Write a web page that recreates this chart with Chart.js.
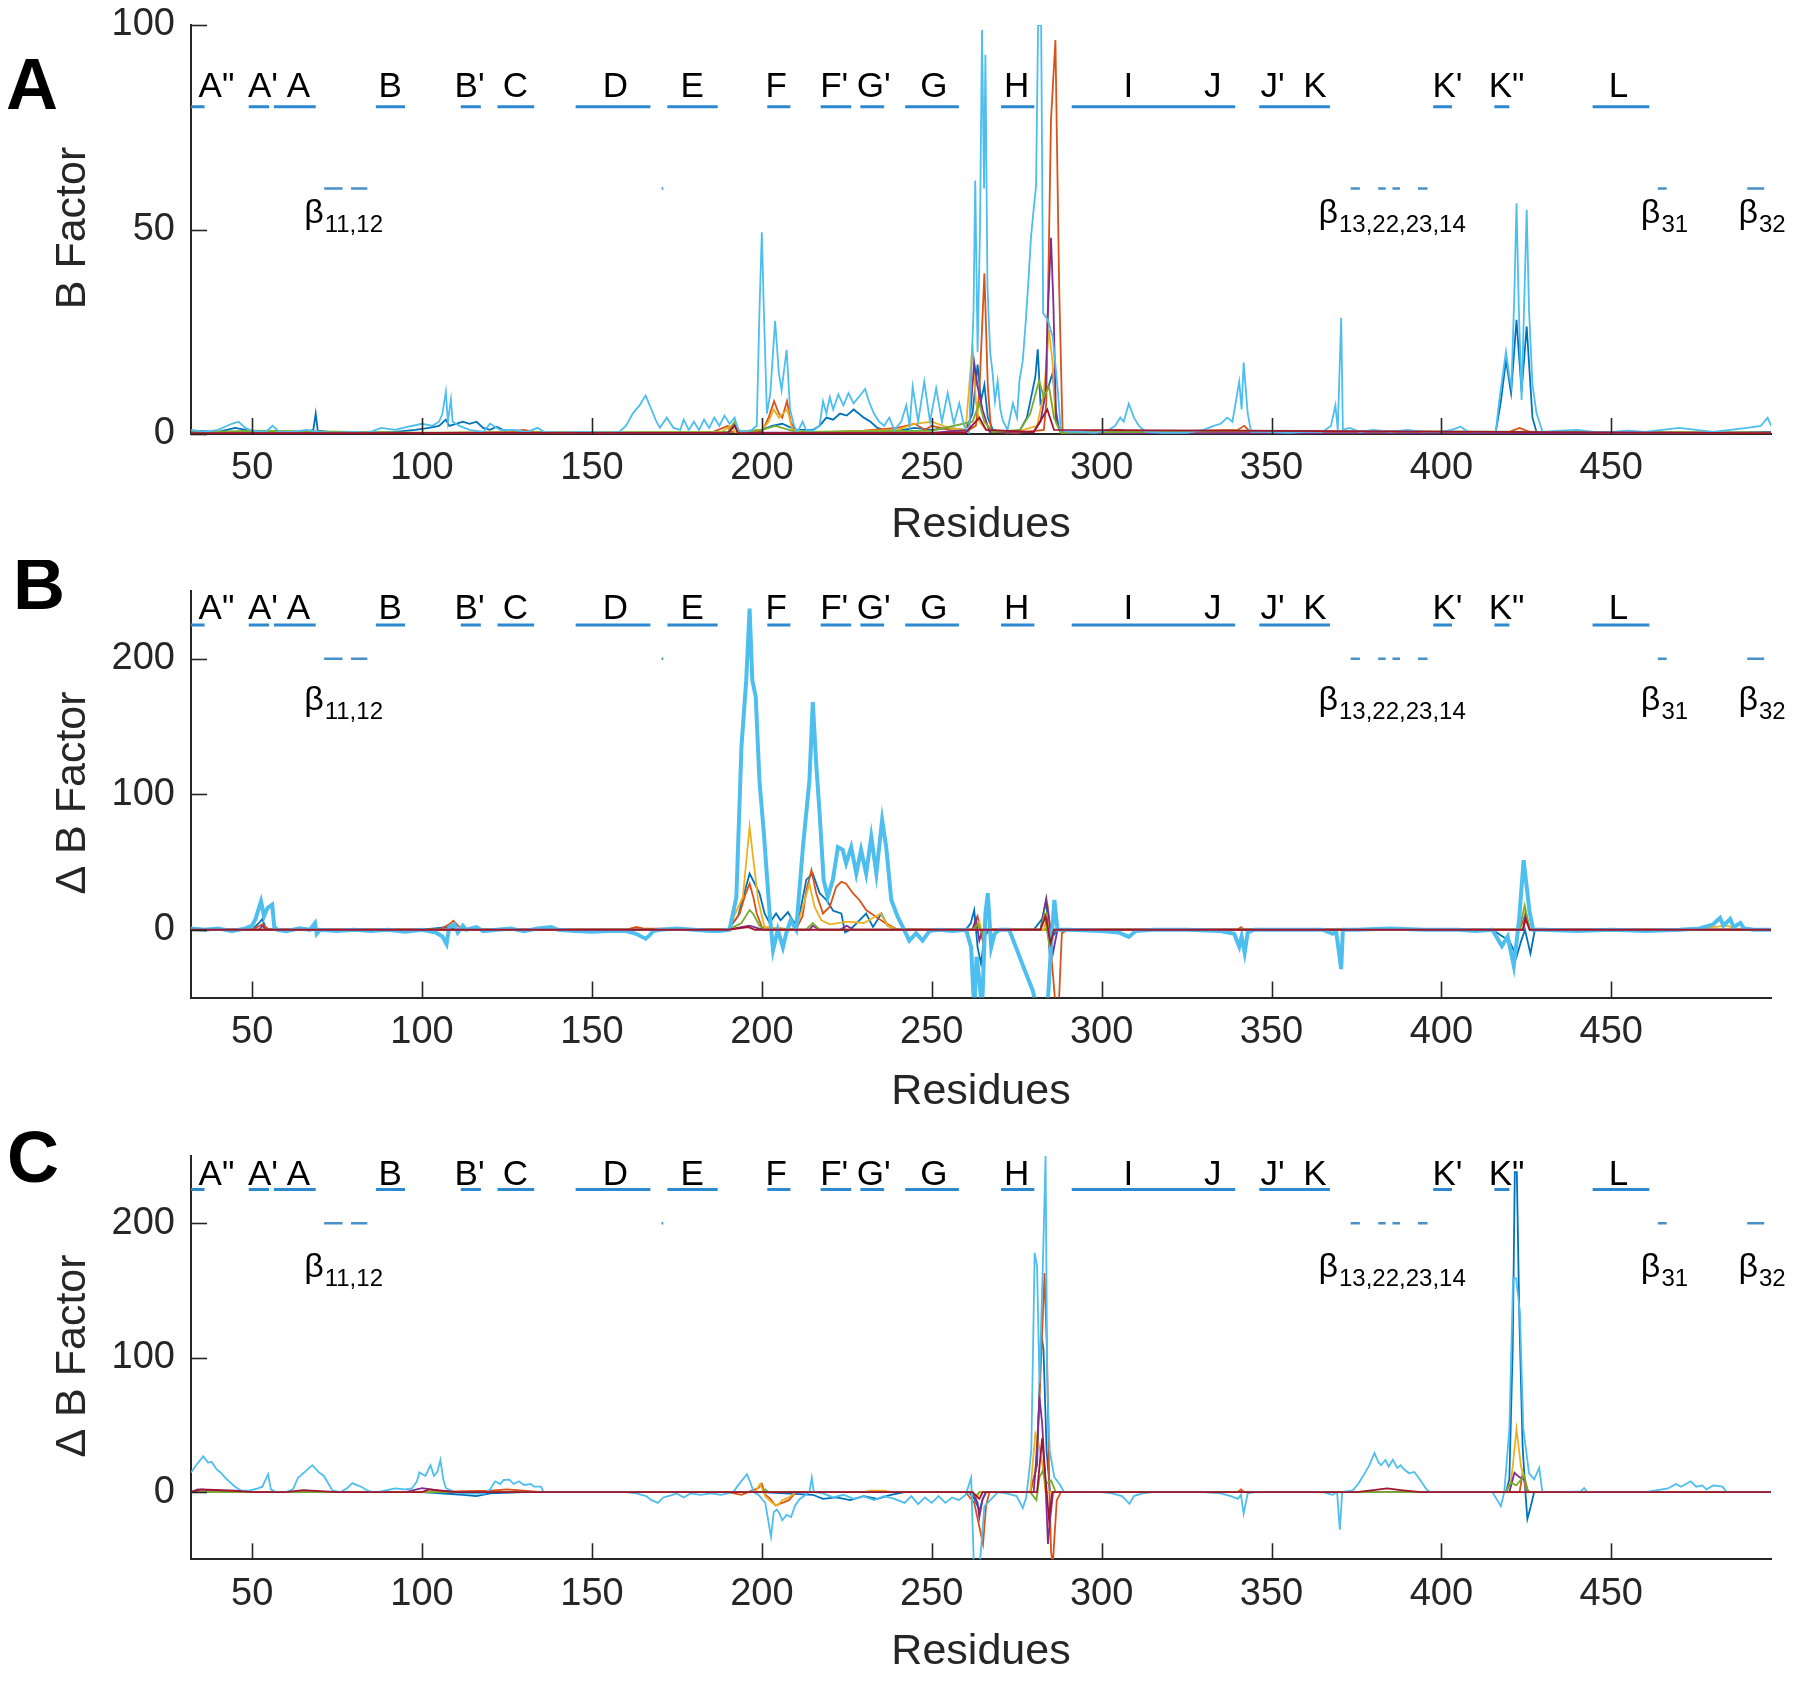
<!DOCTYPE html>
<html><head><meta charset="utf-8">
<script src="https://cdn.jsdelivr.net/npm/chart.js@4.4.1/dist/chart.umd.min.js"></script>
<style>
html,body{margin:0;padding:0;background:#fff;}
#wrap{position:relative;width:1800px;height:1686px;overflow:hidden;}
canvas{position:absolute;left:0;}
</style></head><body>
<div id="wrap">
<canvas id="cA" width="1800" height="545" style="top:0px;width:1800px;height:545px"></canvas>
<canvas id="cB" width="1800" height="545" style="top:560px;width:1800px;height:545px"></canvas>
<canvas id="cC" width="1800" height="566" style="top:1120px;width:1800px;height:566px"></canvas>
</div>
<script>
// ---------------- DATA ----------------
const residueMin = 32, residueMax = 497;
const xTickValues = [50, 100, 150, 200, 250, 300, 350, 400, 450];
const yTicksA = [0, 50, 100];
const yTicksBC = [0, 100, 200];
const seriesColors = ['#0072BD', '#D95319', '#EDB120', '#7E2F8E', '#77AC30', '#4DBEEE', '#A2142F'];

// secondary structure (helices) and their labels
const helixNames = ['A"', "A'", 'A', 'B', "B'", 'C', 'D', 'E', 'F', "F'", "G'", 'G', 'H', 'I', 'J', "J'", 'K', "K'", 'K"', 'L'];
const helixStart = [28, 49, 56.4, 86.4, 111.4, 122.2, 145.2, 172.2, 201.6, 217.3, 229, 242.2, 270.4, 291.2, 325, 346.4, 354.5, 397.6, 415.6, 444.5];
const helixEnd   = [36, 55, 68.7, 95, 117.3, 133, 167.2, 187, 208.4, 226.3, 236, 258, 280.2, 325, 339.3, 354.5, 367.2, 403.1, 420, 461.2];
const helixLabelX = [39.5, 53.2, 63.6, 90.6, 114, 127.5, 156.9, 179.5, 204.2, 221.3, 232.9, 250.6, 275, 307.9, 332.7, 350.3, 362.8, 401.8, 419.2, 452.1];
// beta strands and their labels
const betaStart = [71.2, 79.1, 170.5, 373.3, 381.4, 385.6, 393.1, 463.7, 490];
const betaEnd   = [76.6, 83.9, 171.0, 376.0, 383.6, 387.8, 395.9, 466.3, 495];
const betaLabelSub = ['11,12', '13,22,23,14', '31', '32'];
const betaLabelX = [65.3, 363.8, 458.7, 487.4];

// ---- Panel A : B Factor ----
const A_blue = [[32,0.8],[40,0.5],[45,1.5],[48,1],[52,0.5],[60,0.3],[66,0.5],[68,1],[68.7,5],[69.3,0.8],[75,0.3],[85,0.3],[92,0.5],[98,1],[102,1.5],[105,2],[107,3.5],[108,2],[110,2.5],[112,3],[114,2.5],[116,3],[118,1.5],[120,1],[122,1.8],[125,0.5],[135,0.3],[150,0.3],[165,0.3],[180,0.3],[190,0.5],[195,0.5],[200,1],[203,2],[206,2.5],[210,1],[215,1],[217,2],[219,4],[221,3.5],[223,5],[225,4.5],[227,6],[228.5,5],[230,4],[232,3],[234,1.5],[236,1],[240,0.8],[245,1.5],[250,1],[255,1.5],[260,1],[262,5],[263.5,17],[264.5,8],[265.5,12],[266.5,4],[268,1],[272,0.3],[276,1],[278,4],[279.5,10],[280.5,14],[281.2,20.7],[282,7.5],[283,9],[284.5,12],[285.6,15],[286.5,6],[287.5,1],[290,0.3],[300,0.5],[310,0.8],[320,0.3],[340,0.5],[350,0.3],[370,0.5],[380,0.3],[400,0.3],[410,0.3],[416,0.5],[417.5,8],[419,18],[420.5,10],[422.1,27.9],[423.6,10.4],[425.1,26.3],[426.8,4],[428,0.5],[440,0.3],[460,0.3],[480,0.3],[497,0.5]];
const A_orange = [[32,0.3],[60,0.2],[100,0.2],[125,0.5],[130,1],[133,0.5],[150,0.2],[185,0.3],[190,2],[191,0.5],[200,0.5],[202,4],[203.6,8],[205,5],[206,4],[207.4,8],[208.5,3],[210,0.5],[220,0.5],[230,0.8],[240,1.5],[245,2.5],[248,1],[250,2],[255,1],[260,0.5],[263,2],[264,10],[265.5,39.3],[266.5,11.6],[267.5,0.5],[275,0.3],[283,1],[283.7,7.5],[285.1,76.8],[286.4,96.3],[287.5,36],[288.5,1],[290,0.3],[305,1],[310,0.5],[340,1],[342,2],[344,0.3],[380,0.3],[420,0.5],[423,1.5],[426,0.5],[497,0.3]];
const A_yellow = [[32,0.3],[100,0.2],[150,0.2],[188,0.5],[191,2],[192,0.5],[200,1],[202,3],[203.5,6],[205,4],[207.5,6],[209,1],[215,0.3],[240,1],[245,2.5],[250,3],[255,1.5],[260,1],[262,21.8],[263,8],[264,3],[266,1],[275,0.5],[281,2],[283,10],[284.5,25.4],[285.5,18],[286.5,3],[288,0.3],[340,0.5],[497,0.2]];
const A_purple = [[32,0.2],[100,0.2],[190,0.3],[192,2.5],[193,0.3],[200,0.3],[250,0.3],[261,1],[262.5,17.4],[263.5,11.6],[265,5.8],[267,0.5],[280,0.5],[282,3],[283.5,10],[284.1,28],[285.1,48],[285.8,32],[286.6,3.4],[288,0.2],[497,0.2]];
const A_green = [[32,0.3],[50,0.8],[100,0.3],[190,0.5],[192,3],[193.5,0.5],[200,1],[204,2],[210,0.5],[250,0.8],[262,3],[264,7.5],[265.5,3],[268,0.5],[276,1],[279,5],[281.6,13],[283,9],[284.5,11.6],[286,4],[288,0.3],[340,0.8],[497,0.3]];
const A_lightblue = [[32,1],[36,0.5],[40,1],[44,2.5],[46,3],[48,1.5],[50,0.8],[54,0.5],[56,2],[58,0.5],[62,0.5],[66,1],[70,0.5],[74,0.3],[80,0.5],[84,0.3],[88,1.5],[92,1],[96,1.8],[100,2.5],[103,2],[105,3],[106,5],[107,10.3],[107.6,3],[108.5,8.5],[109,3],[111,2],[114,1],[118,0.5],[120,2.5],[123,1],[127,1],[131,0.5],[134,1.5],[136,0.5],[142,0.3],[148,0.5],[155,0.3],[158,0.5],[160,2],[162,5],[164,7],[165.8,9.4],[167,7],[169,3],[170,1.5],[172,4],[174,1.5],[176,1],[177,3.5],[178.5,1],[180,3],[181.5,1],[183,3.5],[184.5,1.5],[186,4],[187.5,2],[189,4.5],[190.5,2.5],[192,4],[193,1],[195,0.5],[197,1],[198.5,2],[199.3,30],[200,49.3],[200.6,30],[201.5,5],[202.5,10],[203.9,27.7],[205,15],[205.8,10.7],[207.3,20.6],[208.3,6],[209.5,2],[210.5,0.5],[212,3],[213,1],[215,0.8],[217,2],[218,8],[219,5],[220,9],[221,6],[222.5,9.7],[224,7],[225.5,10],[227,7.5],[228.5,9],[230.4,11],[231.5,8],[233,5],[234.5,3],[236,2],[237.5,4],[239,1],[241,3],[242.5,7],[243.5,2],[244.4,11.6],[246,3],[247.8,12.8],[249.5,3],[251.3,11.2],[253,3],[254.7,10],[256.5,2.5],[258.1,7.5],[259.5,2],[261,0.3],[262.3,30],[262.8,62],[263.5,20],[264.2,50],[264.8,98.8],[265.4,60],[265.8,92.7],[266.4,36],[267.2,20],[267.9,15],[268.6,8],[269.4,13],[270.2,6],[270.9,3.4],[272.3,1],[273.9,7.5],[275.1,4],[275.8,13],[276.8,18],[277.7,27.9],[278.5,38],[279.2,48],[280,55],[280.7,60.5],[281.3,100],[282.2,100],[282.8,29.5],[284.1,28],[285.6,23.8],[287,11.6],[288,1],[290,0.5],[294,0.5],[298,0.3],[302,1],[304,2],[305.5,4],[306.5,3],[308,7.4],[309.5,4],[311,2],[313,0.5],[318,0.3],[325,0.3],[330,1],[333,2],[335,2.5],[337,4],[338.5,3],[340.5,12.8],[341.2,6],[341.8,17.5],[343,5],[344,0.5],[348,0.5],[355,0.3],[360,0.5],[365,0.5],[367.5,2],[368.8,7],[369.5,1],[370.5,28.4],[371,1],[373,1.5],[376,0.5],[380,1],[385,0.5],[390,1],[395,0.5],[400,0.5],[403,1],[405.6,1.8],[408,0.5],[412,0.5],[416,0.5],[417,8],[418,14],[419,20.1],[420,14],[420.6,11.6],[421.5,35],[422.1,56.4],[422.8,30],[423.6,8.3],[424.3,30],[425.1,54.8],[425.8,30],[426.8,12],[428,5],[429.8,0.5],[435,0.8],[440,1],[445,0.5],[450,0.5],[455,0.8],[460,0.5],[465,1],[470,1.5],[475,1],[480,0.5],[485,1],[490,1.5],[494,2],[496,4],[497,2]];
const A_darkred = [[32,0.2],[190,0.3],[192,2],[193,0.2],[260,0.3],[264,4],[266,1],[280,0.5],[284,6],[286,1],[497,0.2]];

// ---- Panel B : delta B Factor ----
const B_blue = [[32,0],[50,0],[52,5],[53,8],[54,1],[56,0],[100,0],[108,2],[110,0],[190,0],[193,10],[196.4,41.5],[199.3,27],[200.8,12],[202.3,5],[204.2,12],[205.5,7],[207.7,13],[209.5,5],[211,10],[213.1,37],[215,41.5],[217,27],[219,22],[221,14],[223.4,12],[224.5,-2],[226,0],[228.7,7],[230.7,12],[232.7,2],[235.2,12],[237,3],[240,0],[260,0],[261.5,5],[262.5,14.5],[263.5,-13],[264.5,-25],[265.5,-5],[267,0],[280,0],[282.5,8],[283.7,22],[284.7,-17],[285.6,-5],[287,0],[415,0],[418,-5],[420,-8],[422.1,-20],[423.5,-8],[424.6,0],[426.2,-17.6],[427.5,0],[497,0]];
const B_orange = [[32,0],[50,0],[53,4],[55,0],[105,0],[108,4],[109.2,6.6],[111,2],[113,0],[160,0],[163,2],[165,1],[190,0],[193.5,12],[195,25],[196.4,34],[197.5,24],[198.5,12],[200,2],[210,0],[212,10],[213.1,29],[214.6,44],[216,27],[218,12],[220,17],[221.9,31.7],[223.4,35.4],[224.8,34],[226.8,27],[228.7,22],[230.7,14.5],[233.6,9.5],[236.5,4.7],[240,0],[262,0],[263.5,10],[265,-8],[266.5,0],[283.7,0],[284.5,8],[285.4,-25],[286.4,-55],[287.4,-55],[288.3,-2.5],[290,0],[340,0],[341,2],[342,0],[423,0],[424.5,10],[426,0],[497,0]];
const B_yellow = [[32,0],[190,0],[194.4,24],[196.4,76],[197.4,54],[198.9,22],[200.8,2],[210,0],[212.1,17],[214,34],[215.5,17],[217.5,7],[220,4],[225,6],[230,5],[235,12],[237,3],[240,0],[263,0],[264,6],[265,-4],[266,0],[283,0],[284.3,15],[285,-8],[286,0],[424,0],[424.8,14],[426,0],[470,0],[476,1],[484,3],[488,0],[497,0]];
const B_purple = [[32,0],[52,0],[53,3],[54,0],[190,0],[194,2],[196.4,3],[199,1],[201,0],[214,0],[215,3],[217,0],[223,0],[225,3],[227,0],[262,0],[263,8],[264,-8],[265,0],[282,0],[283.7,23],[284.7,5],[285.7,-17],[287,0],[424,0],[424.8,12],[426,0],[497,0]];
const B_green = [[32,0],[190,0],[194,5],[196.4,14.5],[197.4,12],[199.3,3],[201,0],[213,0],[215,5],[217,0],[262,0],[263.5,4],[265,-3],[266,0],[282,0],[283.2,12],[284.7,-13],[286,0],[423,0],[424.5,18],[426,0],[497,0]];
const B_lightblue = [[32,1],[36,0],[40,1],[44,-1],[48,1],[50,3],[51,8],[52.6,21],[53.5,10],[54.5,16],[55.9,18.5],[56.5,2],[57.5,0],[60,-1],[64,1],[67,0],[68.5,5],[69,-3],[70,0],[75,-1],[80,0],[85,-1],[90,0],[95,-1.5],[100,0],[104,-2],[106,-5],[107.2,-10.6],[108,2],[109.5,4],[110.5,-2],[112,3],[113,0],[116,2],[118,-1],[122,0],[126,1],[130,-1],[134,1],[138,2],[140,0],[145,-1],[150,-1.5],[155,-1],[160,-1],[163,-3],[165.8,-6.6],[167,-4],[168,-1],[170,0],[175,1],[180,0],[185,-1],[187.6,-1],[190.5,0],[192.5,24],[194,135],[195.4,184],[196.4,237],[197.2,184],[198.2,172],[199.3,110],[200.6,71],[201.3,46.5],[202.3,12],[203.3,-15],[204.7,0],[206.2,-13],[207.2,-2.5],[208.5,7],[210.1,0],[212.1,61],[214,110],[215,168],[216,122],[217,86],[218.2,36.6],[219.4,24],[220.9,37],[222.4,61],[223.8,59],[224.8,49],[226.3,61],[227.8,41.5],[229.2,59],[230.7,41.5],[232.2,68.6],[233.7,41.5],[235.4,81],[236.6,61],[238.1,22],[240,9.5],[241.5,2],[243.4,-8],[245.4,-2.5],[247.3,-8],[249.3,-1],[252,0],[256,-1],[260.1,0],[261.6,-13],[262.5,-60],[263.2,-20],[264,-37],[264.8,-60],[265.8,12],[266.5,27],[267.5,-13],[268.5,-3],[269.9,0],[272.8,0],[274.8,-13],[277.7,-32],[279.7,-44.6],[281.2,-60],[284,-60],[285.1,-13],[286.1,22],[287,0],[290,0],[300,-1],[305,-2],[308,-5.3],[310,-1],[315,0],[325,0],[335,-1],[339,-3],[340.5,-12.4],[341.2,-5],[342.1,-17],[343,-2],[345,0],[355,0],[365,0],[368,-3],[369,-1],[370.5,-29],[371,0],[375,0],[385,1],[395,0],[405,0],[410,-1],[415,0],[417.8,-12],[419.5,-5],[421.3,-26.6],[422.3,-5],[422.9,8.5],[424.2,51.4],[425.9,14],[427,0],[430,0],[440,-1],[450,0],[460,-1],[470,0],[476,1],[480,4],[482,8.7],[483,3],[485,8],[486,2],[488,5],[489,1],[492,0],[497,0]];
const B_darkred = [[32,0],[190,0],[196,2],[198,0],[282,0],[283.5,10],[285,-10],[286,0],[424,0],[424.8,8],[426,0],[497,0]];

// ---- Panel C : delta B Factor ----
const C_blue = [[32,0],[60,0],[100,0],[112,-2],[116,-3],[120,-1],[130,0],[200,0],[215,-2],[218,-5],[222,-4],[226,-6],[230,-3],[234,-5],[238,-2],[242,0],[261,0],[262.5,-5],[264.1,-13.7],[265,-5],[266,0],[279,0],[281,20],[282.2,118],[282.9,106],[283.8,31],[284.8,0],[415,0],[419,0],[420,9.5],[421,109],[421.6,238],[422.2,238],[422.9,134],[423.9,34],[424.8,-3],[425.3,-20],[426.3,-10.5],[427.3,0],[497,0]];
const C_orange = [[32,0],[60,0],[100,0],[120,1],[125,2],[130,1],[135,0],[190,0],[194,-2],[196,0],[199,3],[200,6],[201,-2],[202.5,-5],[204,-10],[206,-8],[208,-6],[210,0],[260,0],[262.5,-8],[265.1,-38.6],[266,-10],[267,0],[279,0],[280.5,15],[281.7,68],[283.2,163],[283.9,106],[284.6,6],[285.1,-43.5],[285.6,-55],[286.8,-6],[288,0],[340,0],[341,2],[342,0],[423,0],[423.9,14],[425,0],[497,0]];
const C_yellow = [[32,0],[100,0],[135,0],[198,0],[199.5,6],[201,-3],[203,-8],[204.5,-10],[206,-6],[208,-4],[210,0],[230,0],[232,1],[236,1],[238,0],[262,0],[263.2,-5],[264,0],[279,0],[280.5,43.5],[281.5,36],[282.7,18.7],[283.5,0],[419,0],[420.5,8],[421,19.4],[422.1,47],[423.4,19.4],[425,3],[426,0],[497,0]];
const C_purple = [[32,0],[34,2],[40,1],[45,0],[95,0],[100,3],[105,1],[110,0],[262,0],[263.5,-8],[264,-18.7],[265,-5],[266,0],[280,0],[281,30],[281.7,71],[282.5,51],[283.5,6],[284.2,-38.6],[284.9,-18.7],[285.7,0],[420,0],[421.5,14.4],[423,11],[424.4,9.5],[425.5,0],[497,0]];
const C_green = [[32,0],[100,0],[200,0],[201,2],[202,0],[262,0],[263,-3],[264,0],[279,0],[280.8,-6],[281.7,11],[282.7,16],[283.5,6],[285.1,8.7],[286.5,0],[419,0],[420.5,7],[422,5],[424.4,12],[425.5,0],[497,0]];
const C_lightblue = [[32,14.6],[33.5,20],[35.6,26.6],[37,22],[38.1,22.4],[39.5,17],[40.7,14.6],[42,11],[43.2,8],[45,4],[46.6,1.3],[49,1],[51.7,2.7],[53,4],[54.7,13.3],[55.5,2],[57,0],[60,0],[62,2],[63.5,10.7],[65.5,15],[67.7,20],[69.5,15],[71.1,12],[72.5,6],[73.6,1.3],[76,0],[78,3],[79.5,6.7],[81,5],[82.1,4],[84,1],[85.5,0],[88,0.5],[92,2.7],[95,2],[97,2.7],[98.5,8],[99.2,14.6],[101,12],[102.5,20],[103.5,12],[104.5,15],[105.4,24],[106.2,10],[107,3],[109.6,0],[113,-1.3],[116,-1],[118.1,-1.3],[120,2],[121.5,8],[123,6],[124,9],[125.7,9.3],[127,6],[128.5,8],[130,5.3],[132,6],[133,4],[135,4],[135.8,0],[140,0],[150,0],[160,0],[163,-1],[166,-3],[167.5,-6],[169.4,-8],[171,-4],[173,-2.7],[175,-1],[177,-4],[179,-1],[182,-2],[185,-1],[188,-2],[190,-1],[191.6,0],[193,5],[195.6,13.3],[196.5,8],[197.6,0],[199,-2],[201,-8],[202.7,-33.3],[203.5,-15],[204.4,-13],[205.2,-16],[206,-21],[207.3,-17],[208.6,-18.6],[209.8,-10],[211.1,-5.3],[212.5,-2.7],[214,0],[214.7,10.7],[215.3,0],[218,-1],[221,-4],[224,-2],[227,-5],[230,-3],[233,-6],[236,-3],[239,-5],[242,-8],[244,-3],[246,-9],[248,-4],[250,-8],[252,-3],[254,-8],[256,-4],[258,-6],[260,-2],[261.6,10.7],[262.4,-55],[264.1,-55],[265.5,-10.7],[267.5,-5.3],[269.5,0],[272,-1],[275,-3],[276.8,-12],[277.8,-4],[278.5,11],[279.3,31],[280.3,178],[281,168],[281.7,81],[282.7,168],[283.5,250],[284,81],[284.7,31],[286.1,11],[287.6,6],[289,0],[295,0],[300,0],[303,-1],[306,-3],[308.2,-8.7],[309.5,-3],[312,-1],[315,0],[330,0],[335,-1],[338,-3],[340.1,-5],[341,-2],[341.8,-16],[343,-1],[345,0],[365,0],[368,-2],[369.3,0],[370.1,-28],[370.8,0],[373.9,1.3],[375.5,6],[377.2,13],[378.8,20],[380.3,29],[381.5,22],[382.3,20],[383.5,24],[384.5,19],[385.7,24],[387,18],[388,20],[389,17],[390.5,14],[392,15],[393.3,10.7],[395.8,1.3],[397,0],[410,0],[415,0],[417.5,-10.5],[418.5,0],[420,47],[421.1,159],[422,159],[423.1,134],[424.1,47],[425.8,14],[427.3,9.5],[428.8,18],[429.7,0],[435,0],[441,0.5],[442,3],[443,0],[460,0],[466.7,2.7],[469,6],[470.5,4],[473.4,8],[475,4],[476.8,5],[478,2],[480,5],[482.7,4],[484,0],[497,0]];
const C_darkred = [[32,0],[35,2],[45,1],[50,0],[60,0],[65,1.5],[75,0],[100,0],[102,2],[106,1],[110,0],[262,0],[264,-5],[265,0],[281,0],[282.5,40],[283.5,10],[284.5,-20],[285.5,0],[375,0],[380,1.5],[384,2.7],[388,1.5],[394,0],[497,0]];

// ---------------- RENDERING ----------------
const FONT = '"Liberation Sans", Arial, Helvetica, sans-serif';
const AXIS = '#262626';
const SS_COLOR = '#2D89CF';

function toXY(arr) { return arr.map(p => ({x: p[0], y: p[1]})); }
function segments(starts, ends, level) {
  const out = [];
  starts.forEach((s, i) => { out.push({x: s, y: level}, {x: ends[i], y: level}, {x: ends[i], y: null}); });
  return out;
}

const annotPlugin = {
  id: 'annot',
  afterDraw(chart, args, o) {
    const {ctx, chartArea: ca, scales: {x, y}} = chart;
    ctx.save();
    // inward ticks (MATLAB style)
    ctx.strokeStyle = AXIS; ctx.lineWidth = 1.6;
    x.ticks.forEach(t => { const px = Math.round(x.getPixelForValue(t.value)) + 0.5; ctx.beginPath(); ctx.moveTo(px, ca.bottom); ctx.lineTo(px, ca.bottom - 16); ctx.stroke(); });
    y.ticks.forEach(t => { const py = Math.round(y.getPixelForValue(t.value)) + 0.5; ctx.beginPath(); ctx.moveTo(ca.left, py); ctx.lineTo(ca.left + 16, py); ctx.stroke(); });
    // helix labels
    ctx.fillStyle = '#000';
    ctx.font = '35px ' + FONT; ctx.textAlign = 'center'; ctx.textBaseline = 'alphabetic';
    helixNames.forEach((n, i) => ctx.fillText(n, x.getPixelForValue(helixLabelX[i]), y.getPixelForValue(o.labelY)));
    // beta labels
    ctx.textAlign = 'left';
    betaLabelSub.forEach((s, i) => {
      const px = x.getPixelForValue(betaLabelX[i]); const py = y.getPixelForValue(o.betaY);
      ctx.font = '34px ' + FONT; ctx.fillText('β', px, py);
      const w = ctx.measureText('β').width;
      ctx.font = '24px ' + FONT; ctx.fillText(s, px + w + 1, py + 9);
    });
    // panel letter
    ctx.font = 'bold 72px ' + FONT; ctx.textAlign = 'left';
    ctx.fillText(o.letter, o.letterX, o.letterY);
    // axis titles
    ctx.fillStyle = AXIS;
    ctx.font = '43px ' + FONT; ctx.textAlign = 'center'; ctx.textBaseline = 'middle';
    ctx.fillText('Residues', (ca.left + ca.right) / 2, o.xTitleY);
    ctx.translate(o.yTitleX, o.yTitleY); ctx.rotate(-Math.PI / 2);
    ctx.fillText(o.yTitle, 0, 0);
    ctx.restore();
  }
};

function makePanel(id, series, cfg) {
  const H = document.getElementById(id).height;
  const widths = [1.8, 1.8, 1.8, 1.8, 1.8, cfg.lbWidth, 1.8];
  const datasets = series.map((s, i) => ({
    data: toXY(s), borderColor: seriesColors[i], borderWidth: widths[i],
    pointRadius: 0, tension: 0, fill: false, order: 10 - i
  }));
  datasets.push({data: segments(helixStart, helixEnd, cfg.helixLevel), borderColor: SS_COLOR, borderWidth: 3, pointRadius: 0, spanGaps: false, order: 20});
  datasets.push({data: segments(betaStart, betaEnd, cfg.betaLevel), borderColor: '#4A90C8', borderWidth: 2.5, pointRadius: 0, spanGaps: false, order: 20});
  new Chart(document.getElementById(id), {
    type: 'line',
    data: {datasets},
    options: {
      responsive: false, animation: false, devicePixelRatio: 1,
      layout: {padding: {top: cfg.areaTop, right: 29, left: 0, bottom: 0}},
      plugins: {legend: {display: false}, tooltip: {enabled: false},
        annot: {labelY: cfg.labelY, betaY: cfg.betaTextY, letter: cfg.letter, letterX: cfg.letterX, letterY: cfg.letterY,
                xTitleY: cfg.xTitleY, yTitle: cfg.yTitle, yTitleX: 73, yTitleY: cfg.yTitleY}},
      scales: {
        x: {type: 'linear', min: residueMin, max: residueMax,
            afterBuildTicks: s => { s.ticks = xTickValues.map(v => ({value: v})); },
            afterFit: s => { s.height = H - cfg.areaBottom; s.paddingLeft = 0; s.paddingRight = 0; s.paddingTop = 0; s.paddingBottom = 0; },
            ticks: {font: {size: 38, family: FONT}, color: AXIS, padding: 12, maxRotation: 0, autoSkip: false},
            grid: {display: false, drawTicks: false},
            border: {display: true, color: AXIS, width: 2}},
        y: {type: 'linear', min: cfg.yMin, max: cfg.yMax,
            afterBuildTicks: s => { s.ticks = cfg.yTicks.map(v => ({value: v})); },
            afterFit: s => { s.width = 191; s.paddingTop = 0; s.paddingBottom = 0; s.paddingLeft = 0; s.paddingRight = 0; },
            ticks: {font: {size: 38, family: FONT}, color: AXIS, padding: 16},
            grid: {display: false, drawTicks: false},
            border: {display: true, color: AXIS, width: 2}}
      }
    },
    plugins: [annotPlugin]
  });
}

makePanel('cA', [A_blue, A_orange, A_yellow, A_purple, A_green, A_lightblue, A_darkred],
  {areaTop: 25, areaBottom: 434, yMin: 0, yMax: 100, yTicks: yTicksA, lbWidth: 1.8,
   helixLevel: 80, betaLevel: 60, labelY: 82.5, betaTextY: 51.5,
   letter: 'A', letterX: 6, letterY: 109, xTitleY: 525, yTitle: 'B Factor', yTitleY: 228});
makePanel('cB', [B_blue, B_orange, B_yellow, B_purple, B_green, B_lightblue, B_darkred],
  {areaTop: 31, areaBottom: 437.5, yMin: -50, yMax: 250, yTicks: yTicksBC, lbWidth: 4,
   helixLevel: 225, betaLevel: 200, labelY: 229.5, betaTextY: 162,
   letter: 'B', letterX: 13, letterY: 49, xTitleY: 532, yTitle: 'Δ B Factor', yTitleY: 233});
makePanel('cC', [C_blue, C_orange, C_yellow, C_purple, C_green, C_lightblue, C_darkred],
  {areaTop: 36, areaBottom: 439.3, yMin: -50, yMax: 250, yTicks: yTicksBC, lbWidth: 1.8,
   helixLevel: 225, betaLevel: 200, labelY: 228.5, betaTextY: 160,
   letter: 'C', letterX: 7, letterY: 62, xTitleY: 532, yTitle: 'Δ B Factor', yTitleY: 236});
</script>
</body></html>
